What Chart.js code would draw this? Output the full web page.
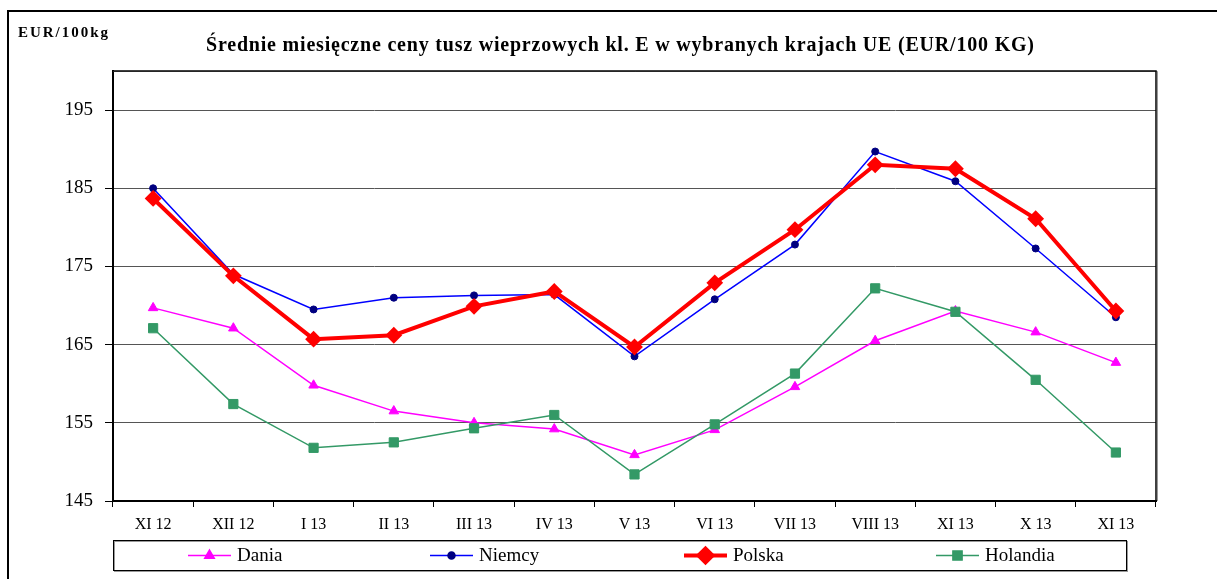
<!DOCTYPE html>
<html>
<head>
<meta charset="utf-8">
<script src="https://cdn.jsdelivr.net/npm/chart.js@4.4.1/dist/chart.umd.min.js"></script>
<style>
  body { margin: 0; background: #fff; }
  #wrap { width: 1217px; height: 579px; }
</style>
</head>
<body>
<div id="wrap"><canvas id="pricesChart" width="1217" height="579"></canvas></div>
<script>
// Dane (EUR/100 kg)
const months = ['XI 12', 'XII 12', 'I 13', 'II 13', 'III 13', 'IV 13', 'V 13', 'VI 13', 'VII 13', 'VIII 13', 'XI 13', 'X 13', 'XI 13'];
const dania = [169.7, 167.1, 159.8, 156.5, 155.0, 154.2, 150.9, 154.1, 159.6, 165.5, 169.3, 166.6, 162.7];
const niemcy = [185.0, 174.0, 169.5, 171.0, 171.3, 171.4, 163.5, 170.8, 177.8, 189.7, 185.9, 177.3, 168.5];
const polska = [183.7, 173.8, 165.7, 166.2, 169.9, 171.8, 164.7, 172.9, 179.7, 188.0, 187.5, 181.1, 169.3];
const holandia = [167.1, 157.4, 151.8, 152.5, 154.3, 156.0, 148.4, 154.8, 161.3, 172.2, 169.2, 160.5, 151.2];
const yTicks = [145, 155, 165, 175, 185, 195];

const titleText = 'Średnie miesięczne ceny tusz wieprzowych kl. E w wybranych krajach UE (EUR/100 KG)';
const unitText = 'EUR/100kg';
const serif = '"Liberation Serif", "Times New Roman", serif';

// tekst rozciągnięty do zadanej szerokości (jak w Excelu)
function fitText(ctx, text, x, y, width) {
  ctx.letterSpacing = '0px';
  const w = ctx.measureText(text).width;
  const sp = Math.max(0, (width - w) / (text.length - 1));
  ctx.letterSpacing = sp + 'px';
  ctx.fillText(text, x, y);
  ctx.letterSpacing = '0px';
}

// ramka, tytuł, obramowanie obszaru wykresu
const framePlugin = {
  id: 'frame',
  beforeDraw(chart) {
    const ctx = chart.ctx;
    ctx.save();
    ctx.fillStyle = '#fff';
    ctx.fillRect(0, 0, chart.width, chart.height);
    ctx.strokeStyle = '#000';
    ctx.lineWidth = 2;
    ctx.beginPath();
    ctx.moveTo(8, chart.height);
    ctx.lineTo(8, 11);
    ctx.lineTo(chart.width, 11);
    ctx.stroke();

    ctx.fillStyle = '#000';
    ctx.textBaseline = 'alphabetic';
    ctx.textAlign = 'left';
    ctx.font = 'bold 15px ' + serif;
    fitText(ctx, unitText, 18, 37, 90);
    ctx.font = 'bold 20px ' + serif;
    fitText(ctx, titleText, 206, 51, 828);
    ctx.restore();
  },
  beforeDatasetsDraw(chart) {
    const a = chart.chartArea;
    const ctx = chart.ctx;
    ctx.save();
    ctx.strokeStyle = '#999';
    ctx.lineWidth = 1;
    ctx.beginPath();
    ctx.moveTo(a.left, a.top + 0.5);
    ctx.lineTo(a.right + 1.5, a.top + 0.5);
    ctx.lineTo(a.right + 1.5, a.bottom);
    ctx.stroke();
    ctx.strokeStyle = '#000';
    ctx.lineWidth = 1.5;
    ctx.beginPath();
    ctx.moveTo(a.left, a.top);
    ctx.lineTo(a.right, a.top);
    ctx.lineTo(a.right, a.bottom);
    ctx.stroke();
    ctx.restore();
  }
};

// legenda pod wykresem: linia z markerem + nazwa
const legendX = [188, 430, 684, 936];
const legendPlugin = {
  id: 'bottomLegend',
  afterDraw(chart) {
    const ctx = chart.ctx;
    const a = chart.chartArea;
    ctx.save();
    ctx.strokeStyle = '#999';
    ctx.lineWidth = 1;
    ctx.strokeRect(a.left + 1.5, 541.5, 1013, 30);
    ctx.strokeStyle = '#000';
    ctx.strokeRect(a.left + 0.5, 540.5, 1013, 30);
    const y = 555.5;
    chart.data.datasets.forEach((ds, i) => {
      const x = legendX[i];
      ctx.strokeStyle = ds.borderColor;
      ctx.lineWidth = ds.borderWidth;
      ctx.beginPath();
      ctx.moveTo(x, y);
      ctx.lineTo(x + 43, y);
      ctx.stroke();
      ctx.fillStyle = ds.pointBackgroundColor;
      ctx.strokeStyle = ds.pointBorderColor;
      Chart.helpers.drawPoint(ctx, {
        pointStyle: ds.pointStyle,
        radius: ds.pointRadius,
        rotation: 0,
        borderWidth: ds.pointBorderWidth
      }, x + 21.5, y);
      ctx.fillStyle = '#000';
      ctx.font = '19px ' + serif;
      ctx.textBaseline = 'middle';
      ctx.textAlign = 'left';
      ctx.fillText(ds.label, x + 49, y + 1);
    });
    ctx.restore();
  }
};

const ctx = document.getElementById('pricesChart').getContext('2d');
new Chart(ctx, {
  type: 'line',
  data: {
    labels: months,
    datasets: [{
      label: 'Dania',
      data: dania,
      borderColor: '#ff00ff',
      borderWidth: 1.5,
      pointStyle: 'triangle',
      pointRadius: 5.5,
      pointBackgroundColor: '#ff00ff',
      pointBorderColor: '#ff00ff',
      pointBorderWidth: 1,
      tension: 0,
      order: 4
    }, {
      label: 'Niemcy',
      data: niemcy,
      borderColor: '#0000ff',
      borderWidth: 1.5,
      pointStyle: 'circle',
      pointRadius: 3.5,
      pointBackgroundColor: '#000080',
      pointBorderColor: '#000080',
      pointBorderWidth: 1,
      tension: 0,
      order: 3
    }, {
      label: 'Polska',
      data: polska,
      borderColor: '#ff0000',
      borderWidth: 4,
      pointStyle: 'rectRot',
      pointRadius: 7,
      pointBackgroundColor: '#ff0000',
      pointBorderColor: '#ff0000',
      pointBorderWidth: 2,
      tension: 0,
      order: 2
    }, {
      label: 'Holandia',
      data: holandia,
      borderColor: '#339966',
      borderWidth: 1.5,
      pointStyle: 'rect',
      pointRadius: 6.5,
      pointBackgroundColor: '#339966',
      pointBorderColor: '#339966',
      pointBorderWidth: 1,
      tension: 0,
      order: 1
    }]
  },
  options: {
    responsive: false,
    animation: false,
    layout: {
      padding: { left: 0, right: 61, top: 71, bottom: 0 }
    },
    plugins: {
      legend: { display: false },
      title: { display: false },
      tooltip: { enabled: false }
    },
    scales: {
      x: {
        type: 'category',
        offset: true,
        afterFit: function(scale) { scale.height = 78; },
        grid: {
          offset: true,
          drawOnChartArea: false,
          tickLength: 6,
          color: '#000',
          lineWidth: 1
        },
        border: { color: '#000', width: 2 },
        ticks: {
          color: '#000',
          font: { family: serif, size: 16 },
          padding: 8,
          maxRotation: 0,
          autoSkip: false
        }
      },
      y: {
        min: 145,
        max: 200,
        afterFit: function(scale) { scale.width = 113; },
        afterBuildTicks: function(scale) {
          scale.ticks = yTicks.map(v => ({ value: v }));
        },
        grid: {
          color: '#555',
          lineWidth: 1,
          tickLength: 8,
          tickColor: '#000'
        },
        border: { color: '#000', width: 2 },
        ticks: {
          color: '#000',
          font: { family: serif, size: 19 },
          padding: 12
        }
      }
    }
  },
  plugins: [framePlugin, legendPlugin]
});
</script>
</body>
</html>
